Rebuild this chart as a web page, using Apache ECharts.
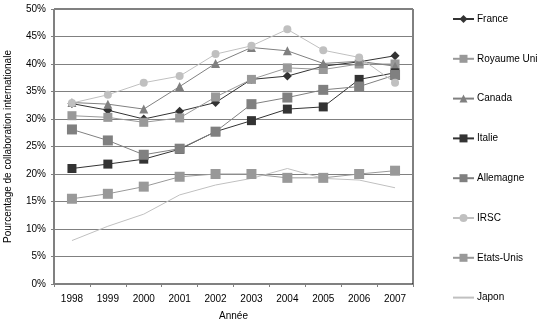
<!DOCTYPE html>
<html><head><meta charset="utf-8">
<script src="https://cdn.jsdelivr.net/npm/echarts@6/dist/echarts.min.js"></script>
<style>html,body{margin:0;padding:0;background:#fff}#c{width:548px;height:322px}</style>
</head><body><div id="c"></div>
<script>
const years = ['1998','1999','2000','2001','2002','2003','2004','2005','2006','2007'];
const yTicks = [0,5,10,15,20,25,30,35,40,45,50];
const france     = [32.8, 31.6, 30.0, 31.4, 33.0, 37.2, 37.8, 39.6, 40.4, 41.5];
const royaumeUni = [30.6, 30.3, 29.4, 30.2, 34.0, 37.2, 39.3, 39.0, 40.0, 40.0];
const canada     = [33.0, 32.7, 31.8, 35.9, 40.1, 43.0, 42.4, 40.1, 40.5, 39.6];
const italie     = [21.0, 21.8, 22.7, 24.5, 27.7, 29.7, 31.8, 32.2, 37.2, 38.4];
const allemagne  = [28.1, 26.1, 23.5, 24.6, 27.7, 32.7, 33.9, 35.3, 35.9, 38.0];
const irsc       = [32.9, 34.4, 36.6, 37.8, 41.8, 43.3, 46.3, 42.5, 41.2, 36.6];
const etatsUnis  = [15.5, 16.4, 17.7, 19.5, 20.0, 20.0, 19.3, 19.3, 20.0, 20.6];
const japon      = [7.9, 10.5, 12.7, 16.2, 18.0, 19.2, 21.0, 19.2, 18.9, 17.5];

const FONT = 'Liberation Sans';
function s(name, data, color, symbol, size) {
  return {
    name, type: 'line', data, symbol, symbolSize: size,
    lineStyle: { color, width: 1 }, itemStyle: { color },
    showSymbol: size > 0, animation: false
  };
}
const chart = echarts.init(document.getElementById('c'), null, { renderer: 'canvas' });
chart.setOption({
  animation: false,
  textStyle: { fontFamily: FONT },
  grid: { left: 54, right: 135, top: 9, bottom: 38, show: true, borderColor: '#000', borderWidth: 1,
          containLabel: false, outerBoundsMode: 'none' },
  xAxis: {
    type: 'category', data: years, boundaryGap: true,
    name: 'Année', nameLocation: 'middle', nameGap: 27,
    nameTextStyle: { fontSize: 10, color: '#000', fontFamily: FONT },
    axisLine: { lineStyle: { color: '#808080' } },
    axisTick: { show: true, interval: 0, length: 3, lineStyle: { color: '#808080' } },
    axisLabel: { fontSize: 10, color: '#000', margin: 10, fontFamily: FONT }
  },
  yAxis: {
    type: 'value', min: 0, max: 50, interval: 5,
    name: 'Pourcentage de collaboration internationale', nameLocation: 'middle', nameGap: 41,
    nameTextStyle: { fontSize: 10, color: '#000', fontFamily: FONT },
    axisLine: { show: true, lineStyle: { color: '#808080' } },
    axisTick: { show: true, length: 3, lineStyle: { color: '#808080' } },
    splitLine: { lineStyle: { color: '#808080', width: 1 } },
    axisLabel: { fontSize: 10, color: '#000', margin: 8, fontFamily: FONT,
      formatter: v => yTicks.includes(v) ? v + '%' : '' }
  },
  legend: {
    orient: 'vertical', left: 452, top: 14, padding: 0, itemWidth: 21, itemHeight: 10, itemGap: 29.8,
    textStyle: { fontSize: 10, color: '#000', fontFamily: FONT, padding: [0,0,0,-2] },
    data: ['France','Royaume Uni','Canada','Italie','Allemagne','IRSC','Etats-Unis',
      { name: 'Japon', itemStyle: { color: 'rgba(0,0,0,0)', borderWidth: 0 } }]
  },
  series: [
    s('France', france, '#333333', 'diamond', 9),
    s('Royaume Uni', royaumeUni, '#999999', 'rect', 9),
    s('Canada', canada, '#808080', 'triangle', 9),
    s('Italie', italie, '#333333', 'rect', 9),
    s('Allemagne', allemagne, '#808080', 'rect', 10),
    s('IRSC', irsc, '#c0c0c0', 'circle', 8),
    s('Etats-Unis', etatsUnis, '#999999', 'rect', 10),
    s('Japon', japon, '#c0c0c0', 'none', 0)
  ]
});
</script></body></html>
